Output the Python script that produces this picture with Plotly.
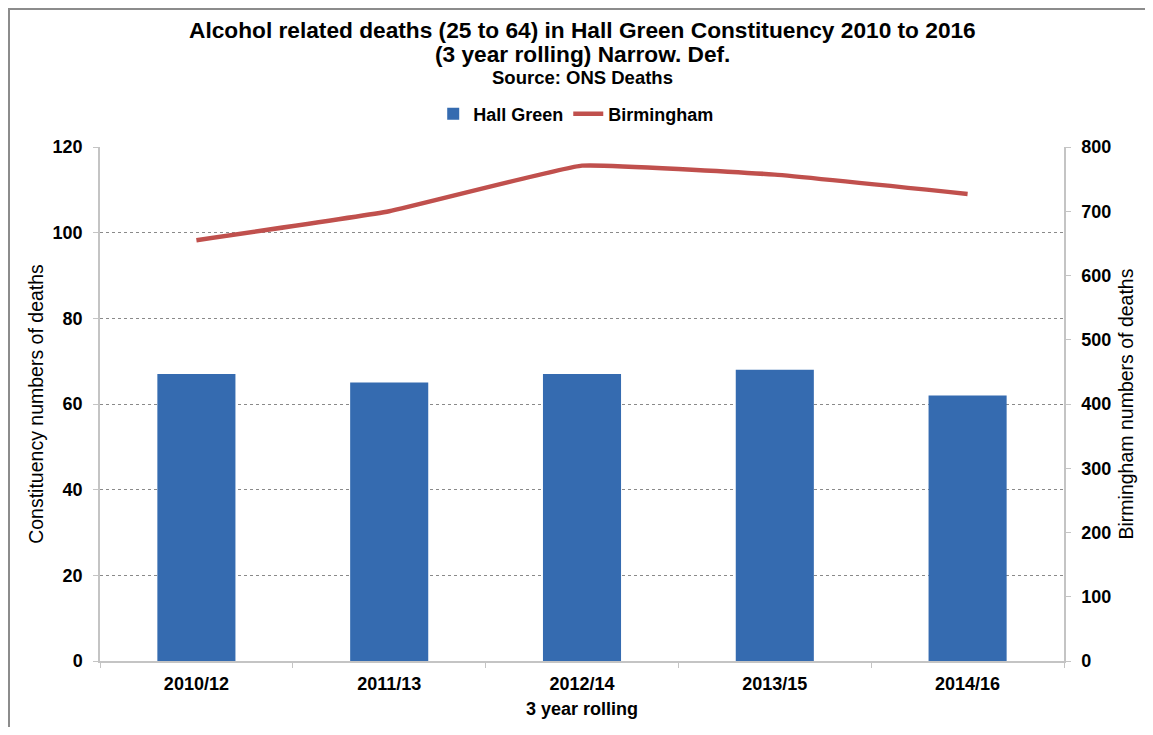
import plotly.graph_objects as go

# data
periods = ["2010/12", "2011/13", "2012/14", "2013/15", "2014/16"]
hall_green = [67, 65, 67, 68, 62]
birmingham = [655, 700, 771, 757, 727]

FONT = "Liberation Sans, Arial, sans-serif"
TICK = {"size": 18, "weight": "bold", "color": "black"}

fig = go.Figure()

fig.add_trace(
    go.Bar(
        name="Hall Green",
        x=periods,
        y=hall_green,
        marker={"color": "#356bb0", "line": {"width": 0}},
        yaxis="y",
    )
)
fig.add_trace(
    go.Scatter(
        name="Birmingham",
        x=periods,
        y=birmingham,
        mode="lines",
        line={"color": "#c0504d", "width": 4.5, "shape": "spline", "smoothing": 0.3},
        yaxis="y2",
    )
)

# the page adds an 8px body margin, so the figure is drawn 8px smaller
fig.update_layout(
    width=1137,
    height=719,
    paper_bgcolor="white",
    plot_bgcolor="white",
    margin={"l": 92, "r": 81, "t": 139, "b": 66},
    font={"family": FONT, "color": "black"},
    showlegend=True,
    legend={
        "orientation": "h",
        "x": 0.494,
        "xanchor": "center",
        "y": 1.064,
        "yanchor": "middle",
        "font": {"size": 18, "weight": "bold"},
        "traceorder": "normal",
    },
    bargap=0.595,
    xaxis={
        "type": "category",
        "showline": True,
        "linecolor": "#c4c4c4",
        "linewidth": 1.5,
        "ticks": "outside",
        "tickson": "boundaries",
        "ticklen": 5,
        "tickcolor": "#c4c4c4",
        "tickfont": TICK,
        "ticklabelstandoff": 6,
        "title": {"text": "3 year rolling", "font": {"size": 18, "weight": "bold"}, "standoff": 9},
        "showgrid": False,
    },
    yaxis={
        "range": [0, 120],
        "dtick": 20,
        "showline": True,
        "linecolor": "#c4c4c4",
        "linewidth": 1.5,
        "ticks": "outside",
        "ticklen": 5,
        "tickcolor": "#c4c4c4",
        "tickfont": TICK,
        "ticklabelstandoff": 7,
        "showgrid": True,
        "gridcolor": "#8a8a8a",
        "griddash": "dot",
        "gridwidth": 1,
        "zeroline": False,
        "title": {"text": "Constituency numbers of deaths", "font": {"size": 19.5}, "standoff": 4},
    },
    yaxis2={
        "range": [0, 800],
        "dtick": 100,
        "overlaying": "y",
        "side": "right",
        "showline": True,
        "linecolor": "#c4c4c4",
        "linewidth": 1.5,
        "ticks": "outside",
        "ticklen": 5,
        "tickcolor": "#c4c4c4",
        "tickfont": TICK,
        "ticklabelstandoff": 7,
        "showgrid": False,
        "zeroline": False,
        "title": {"text": "Birmingham numbers of deaths", "font": {"size": 19.5}, "standoff": 9},
    },
)

# title lines as annotations so each can be placed
title_lines = [
    ("Alcohol related deaths (25 to 64) in Hall Green Constituency 2010 to 2016", 22.7, 1.2276),
    ("(3 year rolling) Narrow. Def.", 22.7, 1.181),
    ("Source: ONS Deaths", 18.5, 1.136),
]
for text, size, ypos in title_lines:
    fig.add_annotation(
        text=f"<b>{text}</b>",
        xref="paper",
        yref="paper",
        x=0.5,
        y=ypos,
        xanchor="center",
        yanchor="middle",
        showarrow=False,
        font={"size": size, "color": "black", "family": FONT},
    )

# chart frame, cut off on the right and bottom like the reference
fig.add_shape(
    type="rect",
    xref="paper",
    yref="paper",
    x0=-0.0944,
    x1=1.2,
    y0=-0.3,
    y1=1.2685,
    line={"color": "#8c8c8c", "width": 2},
    fillcolor="rgba(0,0,0,0)",
    layer="below",
)

fig.write_html("out.html")
